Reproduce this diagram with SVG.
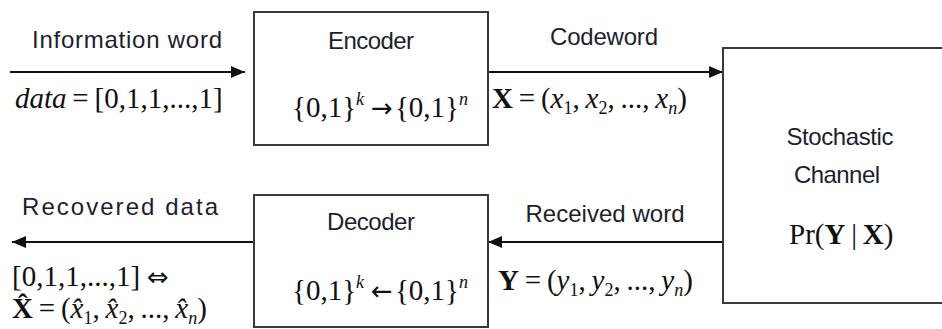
<svg xmlns="http://www.w3.org/2000/svg" width="942" height="329" viewBox="0 0 942 329">
<style>
.box{fill:#fff;stroke:#3a3a3a;stroke-width:2}
.lbl{font-family:"Liberation Sans",Arial,sans-serif;font-size:24px;fill:#1e1e2e;text-anchor:middle}
.m{font-family:"Liberation Serif","Times New Roman",serif;font-size:29px;fill:#111}
.it{font-style:italic}
.b{font-weight:bold}
.sm{font-size:18px}
.ar{font-family:"DejaVu Sans",sans-serif;font-size:26px}
.conn{stroke:#111;stroke-width:2;fill:none}
</style>
<defs>
<marker id="ah" markerWidth="14" markerHeight="12" refX="14" refY="6" orient="auto" markerUnits="userSpaceOnUse"><path d="M0,0 L14,6 L0,12 Z" fill="#111"/></marker>
</defs>
<g id="connectors">
<path class="conn" d="M10,72 H245" marker-end="url(#ah)"/>
<path class="conn" d="M488,72 H723" marker-end="url(#ah)"/>
<path class="conn" d="M723,242 H488" marker-end="url(#ah)"/>
<path class="conn" d="M253,242 H12" marker-end="url(#ah)"/>
</g>
<g id="encoder">
<rect class="box" x="254" y="12" width="234" height="133"/>
<text class="lbl" x="371" y="49" textLength="86">Encoder</text>
<text class="m" x="292" y="117" font-size="28">{0,1}<tspan class="it sm" dy="-12">k</tspan><tspan class="ar" dy="12" dx="7">→</tspan><tspan dx="2">{0,1}</tspan><tspan class="it sm" dy="-12">n</tspan></text>
</g>
<g id="decoder">
<rect class="box" x="254" y="195" width="234" height="132"/>
<text class="lbl" x="371" y="230" textLength="88">Decoder</text>
<text class="m" x="292" y="300" font-size="28">{0,1}<tspan class="it sm" dy="-12">k</tspan><tspan class="ar" dy="12" dx="7">←</tspan><tspan dx="2">{0,1}</tspan><tspan class="it sm" dy="-12">n</tspan></text>
</g>
<g id="channel">
<rect class="box" x="723" y="48" width="240" height="255"/>
<text class="lbl" x="840" y="145" textLength="107">Stochastic</text>
<text class="lbl" x="837" y="183" textLength="86">Channel</text>
<text class="m" x="789" y="244">Pr(<tspan class="b">Y</tspan>&#x2009;|&#x2009;<tspan class="b">X</tspan>)</text>
</g>
<g id="labels">
<text class="lbl" x="127" y="48" textLength="190">Information word</text>
<text class="m" x="15" y="108"><tspan class="it">data</tspan>&#x2009;=&#x2009;[0,1,1,...,1]</text>
<text class="lbl" x="604" y="45" textLength="108">Codeword</text>
<text class="m" x="492" y="108"><tspan class="b">X</tspan>&#x2009;=&#x2009;(<tspan class="it">x</tspan><tspan class="sm" dy="6">1</tspan><tspan dy="-6">,&#x2009;</tspan><tspan class="it">x</tspan><tspan class="sm" dy="6">2</tspan><tspan dy="-6">,&#x2009;...,&#x2009;</tspan><tspan class="it">x</tspan><tspan class="it sm" dy="6">n</tspan><tspan dy="-6">)</tspan></text>
<text class="lbl" x="605" y="222" textLength="159">Received word</text>
<text class="m" x="498" y="290"><tspan class="b">Y</tspan>&#x2009;=&#x2009;(<tspan class="it">y</tspan><tspan class="sm" dy="6">1</tspan><tspan dy="-6">,&#x2009;</tspan><tspan class="it">y</tspan><tspan class="sm" dy="6">2</tspan><tspan dy="-6">,&#x2009;...,&#x2009;</tspan><tspan class="it">y</tspan><tspan class="it sm" dy="6">n</tspan><tspan dy="-6">)</tspan></text>
<text class="lbl" x="120" y="215" font-size="26" textLength="196">Recovered data</text>
<text class="m" x="12" y="286">[0,1,1,...,1]<tspan class="ar" dx="7">⇔</tspan></text>
<text class="m" x="12" y="318"><tspan class="b">X&#x302;</tspan>&#x2009;=&#x2009;(<tspan class="it">x&#x302;</tspan><tspan class="sm" dy="6">1</tspan><tspan dy="-6">,&#x2009;</tspan><tspan class="it">x&#x302;</tspan><tspan class="sm" dy="6">2</tspan><tspan dy="-6">,&#x2009;...,&#x2009;</tspan><tspan class="it">x&#x302;</tspan><tspan class="it sm" dy="6">n</tspan><tspan dy="-6">)</tspan></text>
</g>
</svg>
